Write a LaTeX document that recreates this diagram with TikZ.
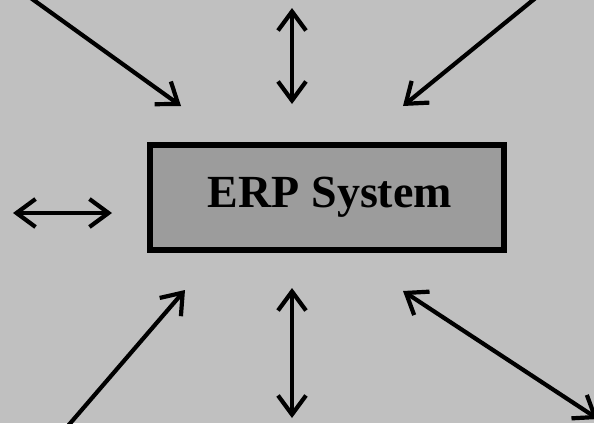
\documentclass[tikz,border=0pt]{standalone}
\usepackage{fontspec}
\setmainfont{Liberation Serif}
\usetikzlibrary{arrows.meta}
\definecolor{bgray}{HTML}{C0C0C0}
\definecolor{boxgray}{HTML}{9C9C9C}
\tikzset{
  link/.style={line width=4.2pt, draw=black, -{Straight Barb[length=19pt,width=28pt]}},
  dlink/.style={line width=4.2pt, draw=black, {Straight Barb[length=19pt,width=28pt]}-{Straight Barb[length=19pt,width=28pt]}},
  erpbox/.style={draw=black, line width=6pt, fill=boxgray, minimum width=354pt, minimum height=105pt, inner sep=0pt},
  erptext/.style={font=\fontsize{46}{50}\selectfont\bfseries, inner sep=0pt, anchor=base}
}
\begin{document}
\begin{tikzpicture}[x=1pt,y=-1pt]
\fill[bgray] (0,0) rectangle (594,423);
\useasboundingbox (0,0) rectangle (594,423);
\begin{scope}
\clip (0,0) rectangle (594,423);
\node[erpbox] (erp) at (327,197.5) {};
\node[erptext] (erplabel) at (330,207) {ERP System};
% endpoints
\coordinate (tlA) at (28,-4);
\coordinate (tlB) at (181,106);
\coordinate (tcA) at (292,8);
\coordinate (tcB) at (292,104);
\coordinate (trA) at (538,-4);
\coordinate (trB) at (403,106);
\coordinate (lA) at (13,213);
\coordinate (lB) at (112,213);
\coordinate (blA) at (67,427);
\coordinate (blB) at (185,290);
\coordinate (bcA) at (292,288);
\coordinate (bcB) at (292,418);
\coordinate (brA) at (403,291);
\coordinate (brB) at (598,419);
\draw[link] (tlA) -- (tlB);
\draw[dlink] (tcA) -- (tcB);
\draw[link] (trA) -- (trB);
\draw[dlink] (lA) -- (lB);
\draw[link] (blA) -- (blB);
\draw[dlink] (bcA) -- (bcB);
\draw[dlink] (brA) -- (brB);
\end{scope}
\end{tikzpicture}
\end{document}
